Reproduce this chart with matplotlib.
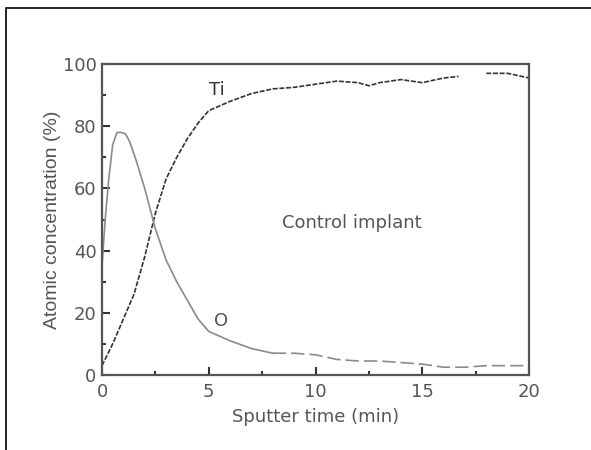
import numpy as np
import matplotlib
matplotlib.use("Agg")
import matplotlib.pyplot as plt
from matplotlib.patches import Rectangle

# Data
ti_time = [0, 0.5, 1, 1.5, 2, 2.5, 3, 3.5, 4, 4.5, 5, 5.5, 6, 7, 8, 9, 10, 11, 12,
           12.5, 13, 14, 15, 16, 16.7, 17.3, 18, 19, 20]
ti_conc = [3, 10, 18, 26, 38, 52, 63, 70, 76, 81, 85, 86.5, 88, 90.5, 92, 92.5, 93.5,
           94.5, 94, 93, 94, 95, 94, 95.5, 96, np.nan, 97, 97, 95.5]

o_time = [0, 0.15, 0.3, 0.5, 0.7, 0.9, 1.1, 1.3, 1.6, 2, 2.5, 3, 3.5, 4, 4.5,
          5, 6, 7, 8, 9, 10, 11, 12, 13, 14, 15, 16, 17, 18, 19, 20]
o_conc = [35, 50, 62, 74, 78, 78, 77.5, 75, 69, 60, 47, 37, 30, 24, 18,
          14, 11, 8.5, 7, 7, 6.5, 5, 4.5, 4.5, 4, 3.5, 2.5, 2.5, 3, 3, 3]

x_ticks = [0, 5, 10, 15, 20]
y_ticks = [0, 20, 40, 60, 80, 100]

plt.rcParams['font.family'] = ['DejaVu Sans']
text_col = '#555555'

fig = plt.figure(figsize=(5.91, 4.5), dpi=100)
fig.patches.append(Rectangle((6/591, -0.1), 2, 1 - 8/450 + 0.1,
                             transform=fig.transFigure, fill=False,
                             edgecolor='black', linewidth=1.2))
ax = fig.add_axes([102/591, 1 - 375/450, (529 - 102)/591, (375 - 64)/450])

ti_t = np.array(ti_time, dtype=float)
ti_c = np.array(ti_conc, dtype=float)
o_t = np.array(o_time, dtype=float)
o_c = np.array(o_conc, dtype=float)

# Ti: dark, densely dashed
ax.plot(ti_t, ti_c, color='#333333', lw=1.2, dashes=(3, 1))
# O: light gray, solid then dashed
m1 = o_t <= 8
m2 = o_t >= 8
ax.plot(o_t[m1], o_c[m1], color='#8a8a8a', lw=1.2)
ax.plot(o_t[m2], o_c[m2], color='#8a8a8a', lw=1.2, dashes=(8, 3))

ax.text(5.4, 91.5, 'Ti', fontsize=13, color='#333333', ha='center', va='center')
ax.text(5.6, 17.5, 'O', fontsize=13, color=text_col, ha='center', va='center')
ax.text(11.7, 49, 'Control implant', fontsize=13, color=text_col,
        ha='center', va='center')

ax.set_xlim(0, 20)
ax.set_ylim(0, 100)
ax.set_xticks(x_ticks)
ax.set_xticklabels([str(v) for v in x_ticks])
ax.set_yticks(y_ticks)
ax.set_yticklabels([str(v) for v in y_ticks])
ax.set_xticks([2.5, 7.5, 12.5, 17.5], minor=True)
ax.set_yticks([10, 30, 50, 70, 90], minor=True)
ax.tick_params(which='major', direction='in', length=6, width=1.5,
               color='#333333', labelsize=13, labelcolor=text_col, pad=4)
ax.tick_params(axis='x', which='major', pad=6)
ax.tick_params(which='minor', direction='in', length=3, width=1.5,
               color='#333333')
for s in ax.spines.values():
    s.set_color('#555555')
    s.set_linewidth(1.6)

ax.set_xlabel('Sputter time (min)', fontsize=13, color=text_col, labelpad=5)
ax.set_ylabel('Atomic concentration (%)', fontsize=14, color=text_col,
              labelpad=1, family='Liberation Sans')

fig.savefig('out.png', dpi=100)
